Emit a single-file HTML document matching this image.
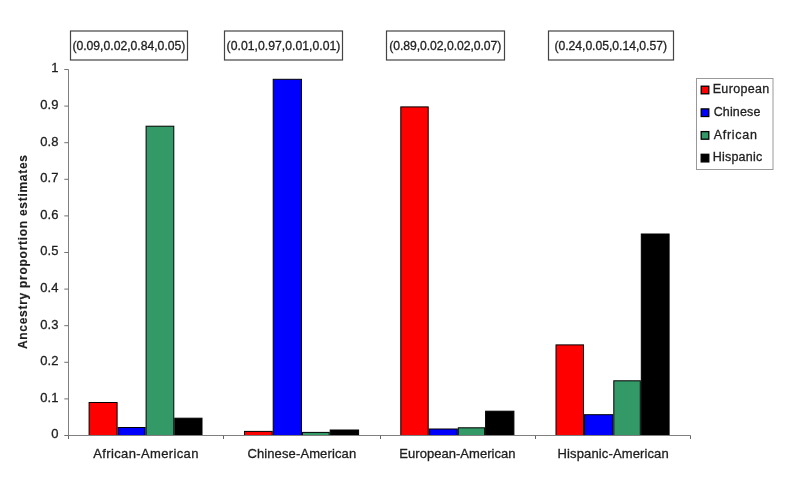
<!DOCTYPE html><html><head><meta charset="utf-8"><style>html,body{margin:0;padding:0;background:#fff;}svg{display:block;}text{font-family:"Liberation Sans",Arial,sans-serif;fill:#1e1e1e;stroke:#1e1e1e;stroke-width:0.3;}</style></head><body>
<svg width="785" height="477" viewBox="0 0 785 477">
<rect x="0" y="0" width="785" height="477" fill="#fff"/>
<rect x="70.5" y="31" width="117.0" height="29" fill="#fff" stroke="#444" stroke-width="1.2"/>
<text x="72.40" y="49.80" font-size="12.2" letter-spacing="-0.010">(0.09,0.02,0.84,0.05)</text>
<rect x="224.5" y="31" width="118.0" height="29" fill="#fff" stroke="#444" stroke-width="1.2"/>
<text x="226.60" y="49.80" font-size="12.2" letter-spacing="0.030">(0.01,0.97,0.01,0.01)</text>
<rect x="386.5" y="31" width="118.0" height="29" fill="#fff" stroke="#444" stroke-width="1.2"/>
<text x="389.20" y="49.80" font-size="12.2" letter-spacing="-0.050">(0.89,0.02,0.02,0.07)</text>
<rect x="548.5" y="31" width="125.0" height="29" fill="#fff" stroke="#444" stroke-width="1.2"/>
<text x="554.40" y="49.80" font-size="12.2" letter-spacing="-0.030">(0.24,0.05,0.14,0.57)</text>
<rect x="89.10" y="402.50" width="28.00" height="33.00" fill="#FF0000" stroke="#000" stroke-width="1"/>
<rect x="118.10" y="427.50" width="27.00" height="8.00" fill="#0000FF" stroke="#000" stroke-width="1"/>
<rect x="146.10" y="126.20" width="27.70" height="309.30" fill="#339966" stroke="#000" stroke-width="1"/>
<rect x="174.80" y="418.20" width="27.20" height="17.30" fill="#000000" stroke="#000" stroke-width="1"/>
<rect x="244.50" y="431.40" width="27.70" height="4.10" fill="#FF0000" stroke="#000" stroke-width="1"/>
<rect x="273.20" y="79.30" width="28.30" height="356.20" fill="#0000FF" stroke="#000" stroke-width="1"/>
<rect x="302.50" y="432.40" width="26.70" height="3.10" fill="#339966" stroke="#000" stroke-width="1"/>
<rect x="330.20" y="430.00" width="28.40" height="5.50" fill="#000000" stroke="#000" stroke-width="1"/>
<rect x="400.80" y="106.90" width="27.40" height="328.60" fill="#FF0000" stroke="#000" stroke-width="1"/>
<rect x="429.20" y="429.00" width="28.10" height="6.50" fill="#0000FF" stroke="#000" stroke-width="1"/>
<rect x="458.30" y="427.80" width="26.30" height="7.70" fill="#339966" stroke="#000" stroke-width="1"/>
<rect x="485.60" y="411.20" width="28.30" height="24.30" fill="#000000" stroke="#000" stroke-width="1"/>
<rect x="556.00" y="344.90" width="27.50" height="90.60" fill="#FF0000" stroke="#000" stroke-width="1"/>
<rect x="584.50" y="414.70" width="28.30" height="20.80" fill="#0000FF" stroke="#000" stroke-width="1"/>
<rect x="613.80" y="380.80" width="26.50" height="54.70" fill="#339966" stroke="#000" stroke-width="1"/>
<rect x="641.30" y="234.00" width="27.80" height="201.50" fill="#000000" stroke="#000" stroke-width="1"/>
<g stroke="#808080" stroke-width="1" fill="none">
<path d="M68.5 69.5V435.5H690.5"/>
<path d="M64.3 435.50H68.5" stroke="#707070"/>
<path d="M64.3 398.90H68.5" stroke="#707070"/>
<path d="M64.3 362.30H68.5" stroke="#707070"/>
<path d="M64.3 325.70H68.5" stroke="#707070"/>
<path d="M64.3 289.10H68.5" stroke="#707070"/>
<path d="M64.3 252.50H68.5" stroke="#707070"/>
<path d="M64.3 215.90H68.5" stroke="#707070"/>
<path d="M64.3 179.30H68.5" stroke="#707070"/>
<path d="M64.3 142.70H68.5" stroke="#707070"/>
<path d="M64.3 106.10H68.5" stroke="#707070"/>
<path d="M64.3 69.50H68.5" stroke="#707070"/>
<path d="M68.50 435.5V439" stroke="#666"/>
<path d="M223.50 435.5V439" stroke="#666"/>
<path d="M380.50 435.5V439" stroke="#666"/>
<path d="M535.50 435.5V439" stroke="#666"/>
<path d="M690.50 435.5V439" stroke="#666"/>
</g>
<text x="58.4" y="438.30" font-size="13" text-anchor="end">0</text>
<text x="58.4" y="401.70" font-size="13" text-anchor="end">0.1</text>
<text x="58.4" y="365.10" font-size="13" text-anchor="end">0.2</text>
<text x="58.4" y="328.50" font-size="13" text-anchor="end">0.3</text>
<text x="58.4" y="291.90" font-size="13" text-anchor="end">0.4</text>
<text x="58.4" y="255.30" font-size="13" text-anchor="end">0.5</text>
<text x="58.4" y="218.70" font-size="13" text-anchor="end">0.6</text>
<text x="58.4" y="182.10" font-size="13" text-anchor="end">0.7</text>
<text x="58.4" y="145.50" font-size="13" text-anchor="end">0.8</text>
<text x="58.4" y="108.90" font-size="13" text-anchor="end">0.9</text>
<text x="58.4" y="72.30" font-size="13" text-anchor="end">1</text>
<text x="93.30" y="457.50" font-size="13" letter-spacing="0.360">African-American</text>
<text x="247.40" y="457.50" font-size="13" letter-spacing="0.120">Chinese-American</text>
<text x="399.30" y="457.50" font-size="13" letter-spacing="0.037">European-American</text>
<text x="557.60" y="457.50" font-size="13" letter-spacing="0.125">Hispanic-American</text>
<text transform="translate(26.60 349.10) rotate(-90)" font-size="12" letter-spacing="0.718" font-weight="bold" style="stroke-width:0.15">Ancestry proportion estimates</text>
<rect x="696.5" y="78.5" width="76.5" height="91" fill="#fff" stroke="#999" stroke-width="1"/>
<rect x="701.2" y="86.20" width="7.6" height="7.6" fill="#FF0000" stroke="#000" stroke-width="1.3"/>
<text x="712.70" y="93.30" font-size="12.5" letter-spacing="0.343">European</text>
<rect x="701.2" y="108.90" width="7.6" height="7.6" fill="#0000FF" stroke="#000" stroke-width="1.3"/>
<text x="713.70" y="116.00" font-size="12.5" letter-spacing="0.133">Chinese</text>
<rect x="701.2" y="131.60" width="7.6" height="7.6" fill="#339966" stroke="#000" stroke-width="1.3"/>
<text x="713.70" y="138.70" font-size="12.5" letter-spacing="0.733">African</text>
<rect x="701.2" y="154.30" width="7.6" height="7.6" fill="#000000" stroke="#000" stroke-width="1.3"/>
<text x="712.70" y="161.40" font-size="12.5" letter-spacing="0.229">Hispanic</text>
</svg></body></html>
